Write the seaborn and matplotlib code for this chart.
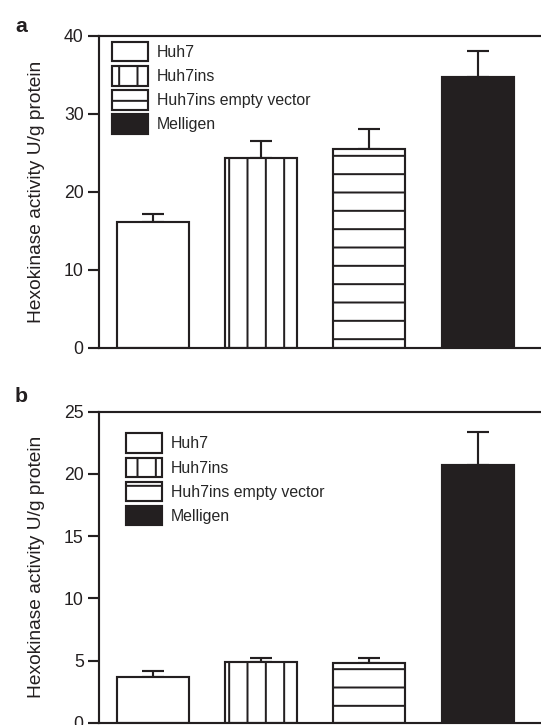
import matplotlib
matplotlib.use("Agg")
import matplotlib.pyplot as plt
import seaborn as sns
import numpy as np
from matplotlib.patches import Patch

sns.set_style("ticks")
plt.rcParams['font.family'] = ['Liberation Sans', 'DejaVu Sans']
plt.rcParams['hatch.linewidth'] = 1.3
plt.rcParams['hatch.color'] = '#231f20'

categories = ["Huh7", "Huh7ins", "Huh7ins empty vector", "Melligen"]
values_a = [16.1, 24.3, 25.5, 34.75]
errors_a = [1.1, 2.3, 2.6, 3.3]
values_b = [3.67, 4.88, 4.77, 20.7]
errors_b = [0.46, 0.35, 0.46, 2.67]
hatches = ["", "|", "-", ""]
facecolors = ["white", "white", "white", "#231f20"]
ylabel = "Hexokinase activity U/g protein"

DPI = 110
W, H = 541, 725
fig = plt.figure(figsize=(W / DPI, H / DPI), dpi=DPI)
ink = "#231f20"
lw = 1.4


def panel(rect, values, errors, ymax, yticks, letter, legend_xy):
    ax = fig.add_axes(rect)
    sns.barplot(x=categories, y=values, ax=ax, width=0.665,
                palette=facecolors, hue=categories, legend=False,
                edgecolor=ink, linewidth=lw, saturation=1)
    for p, h in zip(ax.patches, hatches):
        p.set_hatch(h)
    xs = [p.get_x() + p.get_width() / 2 for p in ax.patches]
    ax.errorbar(xs, values, yerr=[np.zeros(len(errors)), errors], fmt="none",
                ecolor=ink, elinewidth=lw, capsize=6.9, capthick=lw, zorder=0.5)
    ax.set_xlim(-0.495, 3.585)
    ax.set_ylim(0, ymax)
    ax.set_yticks(yticks)
    ax.set_xticks([])
    ax.tick_params(axis="y", length=7, width=lw, color=ink, labelsize=11.5, pad=3,
                   labelcolor=ink)
    for s in ["left", "top", "bottom"]:
        ax.spines[s].set_linewidth(lw)
        ax.spines[s].set_color(ink)
    ax.spines["right"].set_visible(False)
    ax.set_ylabel(ylabel, fontsize=12.5, color=ink)
    ax.yaxis.set_label_coords(-0.122, 0.5)
    handles = [Patch(facecolor=fc, edgecolor=ink, hatch=h, linewidth=lw)
               for fc, h in zip(facecolors, hatches)]
    ax.legend(handles, categories, loc="upper left", bbox_to_anchor=legend_xy,
              frameon=False, fontsize=10.4, handlelength=2.27, handleheight=1.5,
              handletextpad=0.55, labelspacing=0.3, borderaxespad=0,
              borderpad=0)
    fig.text(15 / W, letter[1], letter[0], fontsize=14, fontweight="bold",
             ha="left", va="center", color=ink)
    return ax


ax_a = panel([99 / W, 1 - 348 / H, 1 - 99 / W, (348 - 36) / H], values_a, errors_a,
             40, [0, 10, 20, 30, 40], ("a", 1 - 26 / H),
             ((112 - 99) / 442, (348 - 42) / 312))
ax_b = panel([99 / W, 1 - 722.7 / H, 1 - 99 / W, (722.7 - 411.7) / H], values_b, errors_b,
             25, [0, 5, 10, 15, 20, 25], ("b", 1 - 397 / H),
             ((126 - 99) / 442, (722.7 - 433.5) / 311))

fig.savefig("out.png", dpi=DPI)
